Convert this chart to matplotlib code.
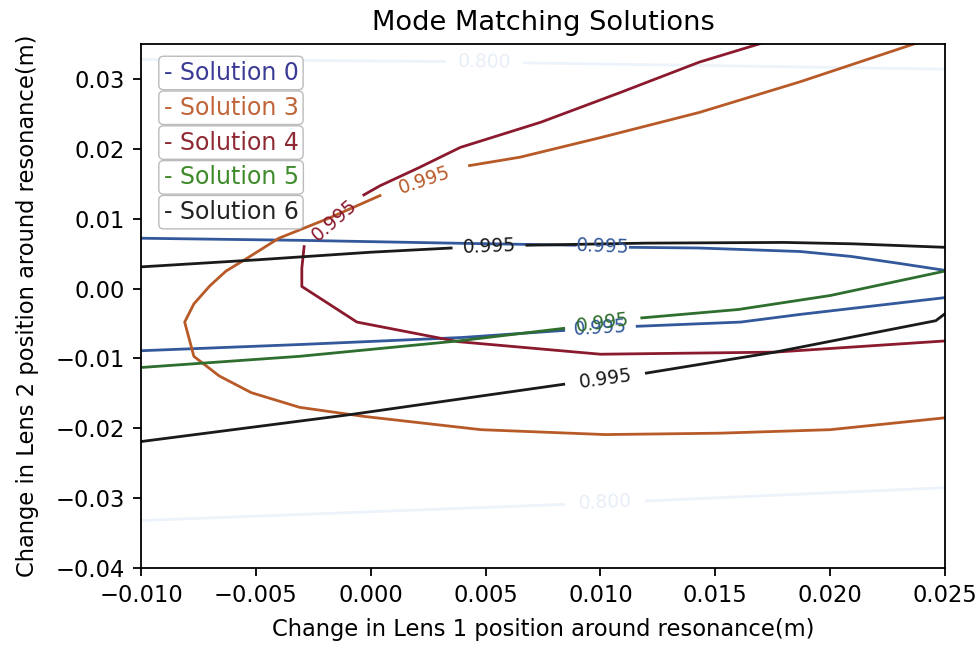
import numpy as np
import matplotlib.pyplot as plt

# level lines, np.nan marks where a clabel cut the line
nan = np.nan

sol0_up_x = [-0.0100, -0.0031, 0.0035, 0.0089, nan, 0.0113, 0.0143, 0.0187, 0.0209, 0.0230, 0.0250]
sol0_up_y = [0.0072, 0.0069, 0.0065, 0.0062, nan, 0.0059, 0.0058, 0.0053, 0.0046, 0.0036, 0.0026]
sol0_lo_x = [-0.0100, -0.0030, 0.0040, 0.0084, nan, 0.0116, 0.0161, 0.0187, 0.0250]
sol0_lo_y = [-0.0089, -0.0080, -0.0070, -0.0060, nan, -0.0054, -0.0048, -0.0037, -0.0013]

sol3_x = [0.0241, 0.0187, 0.0143, 0.0100, 0.0065, 0.0043, nan, 0.0004, -0.0018, -0.0040,
          -0.0054, -0.0063, -0.0070, -0.0077, -0.0081, -0.0077, -0.0066, -0.0052, -0.0031,
          -0.0003, 0.0048, 0.0102, 0.0152, 0.0200, 0.0250]
sol3_y = [0.0355, 0.0296, 0.0252, 0.0216, 0.0188, 0.0176, nan, 0.0133, 0.0101, 0.0072,
          0.0043, 0.0025, 0.0004, -0.0022, -0.0048, -0.0097, -0.0125, -0.0149, -0.0170,
          -0.0183, -0.0202, -0.0209, -0.0207, -0.0202, -0.0185]

sol4_x = [0.0174, 0.0143, 0.0109, 0.0074, 0.0039, 0.0021, 0.0004, -0.0003, nan, -0.0029,
          -0.0030, -0.0030, -0.0006, 0.0038, 0.0100, 0.0176, 0.0250]
sol4_y = [0.0355, 0.0324, 0.0281, 0.0238, 0.0202, 0.0173, 0.0147, 0.0134, nan, 0.0060,
          0.0029, 0.0003, -0.0048, -0.0076, -0.0094, -0.0091, -0.0075]

sol5_x = [-0.0100, -0.0031, 0.0038, 0.0084, nan, 0.0118, 0.0160, 0.0200, 0.0250]
sol5_y = [-0.0113, -0.0097, -0.0075, -0.0057, nan, -0.0042, -0.0030, -0.0010, 0.0025]

sol6_up_x = [-0.0100, -0.0050, 0.0000, 0.0035, nan, 0.0068, 0.0120, 0.0180, 0.0210, 0.0250]
sol6_up_y = [0.0031, 0.0041, 0.0052, 0.0058, nan, 0.0062, 0.0065, 0.0066, 0.0064, 0.0059]
sol6_lo_x = [-0.0100, -0.0008, 0.0084, nan, 0.0120, 0.0176, 0.0246, 0.0250]
sol6_lo_y = [-0.0219, -0.0180, -0.0137, nan, -0.0121, -0.0091, -0.0046, -0.0036]

# very faint 0.800 lines
faint_up_x = [-0.0100, 0.0032, nan, 0.0067, 0.0250]
faint_up_y = [0.0328, 0.0325, nan, 0.0323, 0.0314]
faint_lo_x = [-0.0100, 0.0084, nan, 0.0120, 0.0250]
faint_lo_y = [-0.0332, -0.0309, nan, -0.0304, -0.0285]

names = ['Solution 0', 'Solution 3', 'Solution 4', 'Solution 5', 'Solution 6']
line_colors = ['#33589b', '#b85a28', '#8b1a2e', '#2e6e2e', '#1a1a1a']
text_colors = ['#3c3c96', '#c0643a', '#8f2a35', '#3f8a2a', '#222222']

curves = [
    (sol0_up_x, sol0_up_y, 0, '0.995'),
    (sol0_lo_x, sol0_lo_y, 0, '0.995'),
    (sol3_x, sol3_y, 1, '0.995'),
    (sol4_x, sol4_y, 2, '0.995'),
    (sol5_x, sol5_y, 3, '0.995'),
    (sol6_up_x, sol6_up_y, 4, '0.995'),
    (sol6_lo_x, sol6_lo_y, 4, '0.995'),
]

fs = 16.3
fig = plt.figure(figsize=(9.8, 6.46), dpi=100)
ax = fig.add_axes([0.1439, 0.1207, 0.8204, 0.8112])
ax.set_xlim(-0.010, 0.025)
ax.set_ylim(-0.040, 0.035)


def draw(x, y, color, label, lcolor):
    x = np.array(x)
    y = np.array(y)
    ax.plot(x, y, color=color, lw=2.0)
    # label sits in the gap, turned along the line
    i = np.where(np.isnan(x))[0][0]
    p0 = ax.transData.transform((x[i - 1], y[i - 1]))
    p1 = ax.transData.transform((x[i + 1], y[i + 1]))
    ang = np.degrees(np.arctan2(p1[1] - p0[1], p1[0] - p0[0]))
    if ang > 90:
        ang -= 180
    if ang < -90:
        ang += 180
    ax.text((x[i - 1] + x[i + 1]) / 2, (y[i - 1] + y[i + 1]) / 2, label,
            color=lcolor, fontsize=13.5, rotation=ang, rotation_mode='anchor',
            ha='center', va='center')


draw(faint_up_x, faint_up_y, '#edf3fa', '0.800', '#e8eef6')
draw(faint_lo_x, faint_lo_y, '#edf3fa', '0.800', '#e8eef6')
for x, y, k, lab in curves:
    draw(x, y, line_colors[k], lab, line_colors[k])

# the "legend": one rounded box per solution
for k, name in enumerate(names):
    ax.text(0.028, 0.9447 - k * 0.0664, '- ' + name, transform=ax.transAxes,
            fontsize=17, color=text_colors[k], va='center', ha='left',
            bbox=dict(boxstyle='round,pad=0.2', fc='white', ec='#b0b0b0', alpha=0.85))

ax.set_title('Mode Matching Solutions', fontsize=19.6, pad=9.8)
ax.set_xlabel('Change in Lens 1 position around resonance(m)', fontsize=fs, labelpad=8)
ax.set_ylabel('Change in Lens 2 position around resonance(m)', fontsize=fs, labelpad=12)
ax.tick_params(labelsize=fs, length=5.7, width=1.3, pad=5.7)
for s in ax.spines.values():
    s.set_linewidth(1.3)

fig.savefig('out.png', dpi=100)
